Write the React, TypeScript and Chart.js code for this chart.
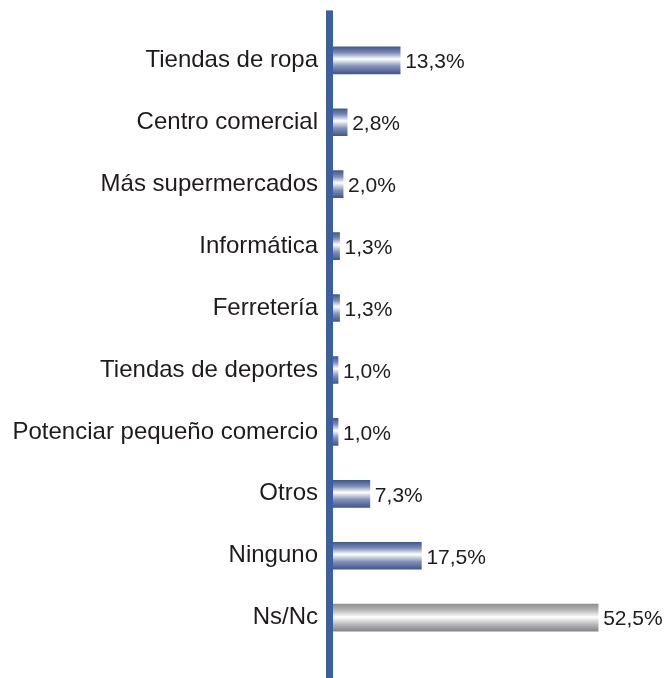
import React, { useEffect, useRef } from "react";
import { Chart, registerables } from "chart.js";

Chart.register(...registerables);

const categories = [
  "Tiendas de ropa",
  "Centro comercial",
  "Más supermercados",
  "Informática",
  "Ferretería",
  "Tiendas de deportes",
  "Potenciar pequeño comercio",
  "Otros",
  "Ninguno",
  "Ns/Nc",
];
const values = [13.3, 2.8, 2.0, 1.3, 1.3, 1.0, 1.0, 7.3, 17.5, 52.5];
const grayIndex = [9];

const FONT = "'Liberation Sans', Arial, Helvetica, sans-serif";
const BAR_THICK = 27;

export default function App() {
  const ref = useRef<HTMLCanvasElement | null>(null);
  useEffect(() => {
    document.body.style.margin = "0";
    const canvas = ref.current!;
    const axisLine = {
      id: "axisLine",
      afterDatasetsDraw(chart: any) {
        const { ctx, chartArea } = chart;
        ctx.save();
        ctx.fillStyle = "#3d5f9b";
        ctx.fillRect(chartArea.left - 7, chartArea.top - 19, 7, chart.height - (chartArea.top - 19));
        ctx.restore();
      },
    };
    const valueLabels = {
      id: "valueLabels",
      afterDatasetsDraw(chart: any) {
        const { ctx } = chart;
        const meta = chart.getDatasetMeta(0);
        ctx.save();
        ctx.font = `21px ${FONT}`;
        ctx.fillStyle = "#1f1b1c";
        ctx.textAlign = "left";
        ctx.textBaseline = "middle";
        meta.data.forEach((bar: any, i: number) => {
          const txt = values[i].toFixed(1).replace(".", ",") + "%";
          ctx.fillText(txt, bar.x + 5, bar.y + 2);
        });
        ctx.restore();
      },
    };
    const chart = new Chart(canvas, {
      type: "bar",
      data: {
        labels: categories,
        datasets: [
          {
            data: values,
            barThickness: BAR_THICK,
            borderWidth: 0,
            backgroundColor: (c: any) => {
              const ch = c.chart;
              const gray = grayIndex.includes(c.dataIndex);
              if (!ch.chartArea || !ch.scales.y) return gray ? "#aaa" : "#5a6d9e";
              const y = ch.scales.y.getPixelForValue(c.dataIndex);
              const g = ch.ctx.createLinearGradient(0, y - BAR_THICK / 2, 0, y + BAR_THICK / 2);
              if (gray) {
                g.addColorStop(0, "#8f8f91");
                g.addColorStop(0.22, "#b6b6b8");
                g.addColorStop(0.48, "#ffffff");
                g.addColorStop(0.75, "#b8b8ba");
                g.addColorStop(1, "#868688");
              } else {
                g.addColorStop(0, "#42578c");
                g.addColorStop(0.22, "#7e8cb5");
                g.addColorStop(0.45, "#ffffff");
                g.addColorStop(0.72, "#8390b8");
                g.addColorStop(1, "#43568a");
              }
              return g;
            },
          },
        ],
      },
      options: {
        indexAxis: "y",
        responsive: false,
        animation: false,
        layout: { padding: { top: 28, bottom: 18, right: 29, left: 0 } },
        plugins: { legend: { display: false }, tooltip: { enabled: false } },
        scales: {
          x: { display: false, min: 0, max: 60 },
          y: {
            afterFit: (s: any) => {
              s.width = 333;
            },
            grid: { display: false, drawTicks: false },
            border: { display: false },
            ticks: {
              padding: 15,
              color: "#1f1b1c",
              font: { family: FONT, size: 24 },
            },
          },
        },
      },
      plugins: [axisLine, valueLabels],
    } as any);
    return () => chart.destroy();
  }, []);
  return <canvas ref={ref} width={665} height={678} style={{ display: "block", width: 665, height: 678 }} />;
}
